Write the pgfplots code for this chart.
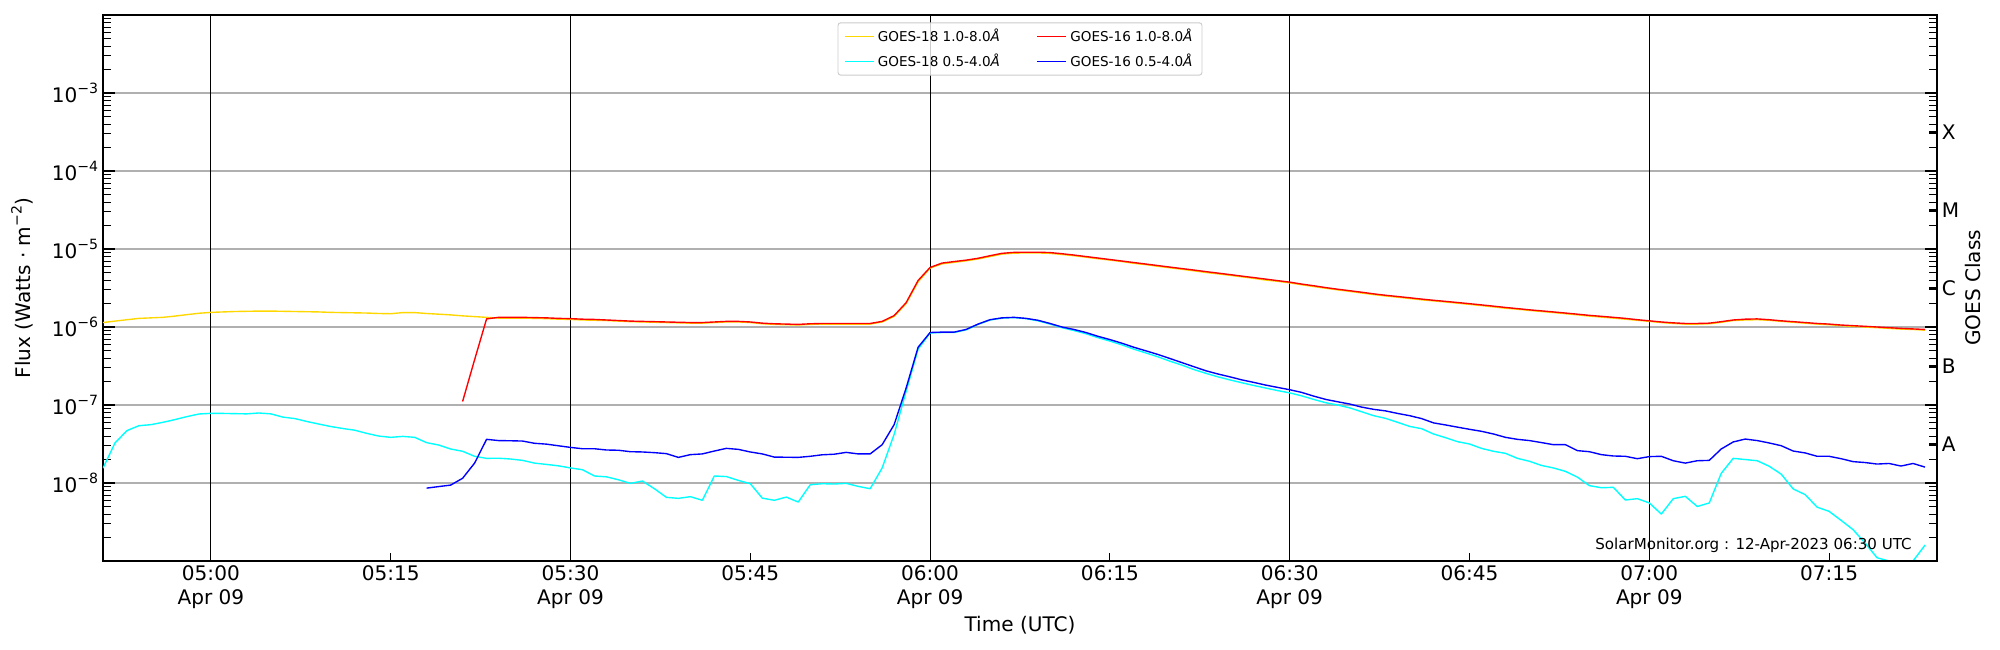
\documentclass[border=0pt]{standalone}
\usepackage{fontspec}
\setmainfont{DejaVu Sans}
\usepackage{pgfplots}
\pgfplotsset{compat=1.18}
\definecolor{goldc}{HTML}{FFD700}
\definecolor{cyanc}{HTML}{00FFFF}
\definecolor{redc}{HTML}{FF0000}
\definecolor{bluec}{HTML}{0000FF}
\definecolor{gridgray}{HTML}{B0B0B0}
\definecolor{legedge}{HTML}{CCCCCC}
\newcommand{\sups}[1]{\raisebox{0.43em}{\fontsize{10.2}{12}\selectfont #1}}
\newcommand{\bigf}{\fontsize{14.5}{16.8}\selectfont}
\begin{document}
\begin{tikzpicture}
\useasboundingbox (-1.03in,-0.89in) rectangle (18.97in,5.61in);
\begin{axis}[
  at={(0,0)}, anchor=south west,
  scale only axis, width=18.34in, height=5.46in,
  xmin=-9, xmax=144, ymin=1e-9, ymax=1e-2, ymode=log,
  xtick=\empty,
  ytick={1e-8,1e-7,1e-6,1e-5,1e-4,1e-3},
  yticklabels={10\sups{−8},10\sups{−7},10\sups{−6},10\sups{−5},10\sups{−4},10\sups{−3}},
  minor ytick={2e-9,3e-9,4e-9,5e-9,6e-9,7e-9,8e-9,9e-9,
    2e-8,3e-8,4e-8,5e-8,6e-8,7e-8,8e-8,9e-8,
    2e-7,3e-7,4e-7,5e-7,6e-7,7e-7,8e-7,9e-7,
    2e-6,3e-6,4e-6,5e-6,6e-6,7e-6,8e-6,9e-6,
    2e-5,3e-5,4e-5,5e-5,6e-5,7e-5,8e-5,9e-5,
    2e-4,3e-4,4e-4,5e-4,6e-4,7e-4,8e-4,9e-4,
    2e-3,3e-3,4e-3,5e-3,6e-3,7e-3,8e-3,9e-3},
  ytick pos=both, yticklabel pos=left,
  tick align=inside,
  major tick length=0.12in, minor tick length=0.08in,
  tick style={black, line width=0.75pt},
  ymajorgrids, major grid style={gridgray, line width=0.75pt},
  axis line style={line width=0.9pt},
  yticklabel style={font=\bigf},
  ylabel={Flux (Watts · m\sups{−2})},
  ylabel style={font=\bigf, at={(axis description cs:0,0.5)}, anchor=center, yshift=0.81in},
  legend columns=2, transpose legend,
  legend cell align=left,
  legend style={at={(axis description cs:0.5,1)}, anchor=north, yshift=-0.073in,
    font=\fontsize{9.8}{11.5}\selectfont, fill=white, fill opacity=0.8, text opacity=1,
    draw=legedge, line width=0.7pt, rounded corners=2pt,
    inner xsep=0.06in, inner ysep=0.04in, row sep=0.05in,
    nodes={inner xsep=0.035in, inner ysep=0.025in},
    /tikz/every even column/.append style={column sep=0.33in}},
  legend image code/.code={\draw[#1, line width=1pt] (0in,0in) -- (0.29in,0in);},
  every axis plot/.append style={line width=1pt, line join=round},
  clip=true,
]
% vertical black lines at the half hours
\addplot[black, line width=0.7pt, forget plot] coordinates {(0,1e-9) (0,1e-2)};
\addplot[black, line width=0.7pt, forget plot] coordinates {(30,1e-9) (30,1e-2)};
\addplot[black, line width=0.7pt, forget plot] coordinates {(60,1e-9) (60,1e-2)};
\addplot[black, line width=0.7pt, forget plot] coordinates {(90,1e-9) (90,1e-2)};
\addplot[black, line width=0.7pt, forget plot] coordinates {(120,1e-9) (120,1e-2)};
% GOES-18 1.0-8.0 A
\addplot[goldc] coordinates {
(-9,1.14e-6)(-8,1.19e-6)(-7,1.24e-6)(-6,1.29e-6)(-5,1.31e-6)(-4,1.33e-6)(-3,1.38e-6)(-2,1.44e-6)(-1,1.50e-6)
(0,1.54e-6)(1,1.56e-6)(2,1.58e-6)(3,1.59e-6)(4,1.60e-6)(5,1.60e-6)(6,1.59e-6)(7,1.58e-6)(8,1.57e-6)(9,1.56e-6)
(10,1.54e-6)(11,1.53e-6)(12,1.52e-6)(13,1.51e-6)(14,1.49e-6)(15,1.48e-6)(16,1.53e-6)(17,1.53e-6)(18,1.49e-6)(19,1.46e-6)
(20,1.43e-6)(21,1.39e-6)(22,1.36e-6)(23,1.33e-6)(24,1.30e-6)(25,1.30e-6)(26,1.30e-6)(27,1.29e-6)(28,1.28e-6)(29,1.26e-6)
(30,1.25e-6)(31,1.23e-6)(32,1.22e-6)(33,1.21e-6)(34,1.19e-6)(35,1.17e-6)(36,1.16e-6)(37,1.15e-6)(38,1.14e-6)(39,1.13e-6)
(40,1.12e-6)(41,1.12e-6)(42,1.14e-6)(43,1.16e-6)(44,1.16e-6)(45,1.14e-6)(46,1.10e-6)(47,1.08e-6)(48,1.07e-6)(49,1.06e-6)
(50,1.08e-6)(51,1.09e-6)(52,1.09e-6)(53,1.09e-6)(54,1.09e-6)(55,1.09e-6)(56,1.16e-6)(57,1.37e-6)(58,2.0e-6)(59,3.8e-6)
(60,5.7e-6)(61,6.45e-6)(62,6.75e-6)(63,7.05e-6)(64,7.45e-6)(65,8.0e-6)(66,8.6e-6)(67,8.85e-6)(68,8.9e-6)(69,8.9e-6)
(70,8.8e-6)(71,8.5e-6)(72,8.2e-6)(73,7.85e-6)(74,7.5e-6)(75,7.2e-6)(76,6.9e-6)(77,6.55e-6)(78,6.3e-6)(79,6.0e-6)
(80,5.75e-6)(81,5.5e-6)(82,5.25e-6)(83,5.0e-6)(84,4.8e-6)(85,4.6e-6)(86,4.4e-6)(87,4.2e-6)(88,4.0e-6)(89,3.85e-6)
(90,3.68e-6)(91,3.48e-6)(92,3.3e-6)(93,3.14e-6)(94,2.99e-6)(95,2.86e-6)(96,2.73e-6)(97,2.6e-6)(98,2.5e-6)(99,2.41e-6)
(100,2.32e-6)(101,2.23e-6)(102,2.16e-6)(103,2.09e-6)(104,2.02e-6)(105,1.95e-6)(106,1.88e-6)(107,1.81e-6)(108,1.74e-6)(109,1.69e-6)
(110,1.63e-6)(111,1.58e-6)(112,1.53e-6)(113,1.48e-6)(114,1.43e-6)(115,1.38e-6)(116,1.34e-6)(117,1.30e-6)(118,1.26e-6)(119,1.22e-6)
(120,1.18e-6)(121,1.14e-6)(122,1.11e-6)(123,1.09e-6)(124,1.09e-6)(125,1.10e-6)(126,1.15e-6)(127,1.21e-6)(128,1.23e-6)(129,1.24e-6)
(130,1.22e-6)(131,1.18e-6)(132,1.15e-6)(133,1.12e-6)(134,1.09e-6)(135,1.07e-6)(136,1.04e-6)(137,1.02e-6)(138,1.00e-6)(139,0.98e-6)
(140,0.96e-6)(141,0.94e-6)(142,0.93e-6)(143,0.91e-6)
};
\addlegendentry{GOES-18 1.0-8.0\textit{Å}}
% GOES-18 0.5-4.0 A
\addplot[cyanc] coordinates {
(-9,1.55e-8)(-8,3.26e-8)(-7,4.7e-8)(-6,5.43e-8)(-5,5.6e-8)(-4,6.0e-8)(-3,6.5e-8)(-2,7.1e-8)(-1,7.67e-8)
(0,7.82e-8)(1,7.8e-8)(2,7.75e-8)(3,7.7e-8)(4,7.9e-8)(5,7.7e-8)(6,7.0e-8)(7,6.7e-8)(8,6.15e-8)(9,5.7e-8)
(10,5.3e-8)(11,5.0e-8)(12,4.75e-8)(13,4.33e-8)(14,4.0e-8)(15,3.85e-8)(16,3.96e-8)(17,3.85e-8)(18,3.29e-8)(19,3.07e-8)
(20,2.73e-8)(21,2.55e-8)(22,2.2e-8)(23,2.07e-8)(24,2.08e-8)(25,2.03e-8)(26,1.95e-8)(27,1.8e-8)(28,1.73e-8)(29,1.66e-8)
(30,1.56e-8)(31,1.48e-8)(32,1.23e-8)(33,1.2e-8)(34,1.1e-8)(35,9.9e-9)(36,1.06e-8)(37,8.45e-9)(38,6.55e-9)(39,6.36e-9)
(40,6.68e-9)(41,6.0e-9)(42,1.23e-8)(43,1.21e-8)(44,1.08e-8)(45,9.8e-9)(46,6.4e-9)(47,6.0e-9)(48,6.6e-9)(49,5.7e-9)
(50,9.5e-9)(51,9.8e-9)(52,9.7e-9)(53,9.9e-9)(54,9.05e-9)(55,8.45e-9)(56,1.56e-8)(57,4.2e-8)(58,1.5e-7)(59,5.2e-7)
(60,8.4e-7)(61,8.5e-7)(62,8.5e-7)(63,9.2e-7)(64,1.08e-6)(65,1.23e-6)(66,1.30e-6)(67,1.32e-6)(68,1.28e-6)(69,1.20e-6)
(70,1.09e-6)(71,9.8e-7)(72,9.0e-7)(73,8.2e-7)(74,7.3e-7)(75,6.6e-7)(76,5.9e-7)(77,5.2e-7)(78,4.65e-7)(79,4.15e-7)
(80,3.65e-7)(81,3.25e-7)(82,2.85e-7)(83,2.55e-7)(84,2.3e-7)(85,2.1e-7)(86,1.93e-7)(87,1.78e-7)(88,1.65e-7)(89,1.53e-7)
(90,1.43e-7)(91,1.31e-7)(92,1.18e-7)(93,1.07e-7)(94,1.0e-7)(95,9.2e-8)(96,8.2e-8)(97,7.3e-8)(98,6.74e-8)(99,6.0e-8)
(100,5.32e-8)(101,4.97e-8)(102,4.25e-8)(103,3.81e-8)(104,3.39e-8)(105,3.16e-8)(106,2.78e-8)(107,2.55e-8)(108,2.4e-8)(109,2.07e-8)
(110,1.9e-8)(111,1.68e-8)(112,1.56e-8)(113,1.41e-8)(114,1.19e-8)(115,9.25e-9)(116,8.7e-9)(117,8.8e-9)(118,6.05e-9)(119,6.3e-9)
(120,5.55e-9)(121,4.0e-9)(122,6.3e-9)(123,6.75e-9)(124,5.0e-9)(125,5.55e-9)(126,1.33e-8)(127,2.07e-8)(128,2.0e-8)(129,1.93e-8)
(130,1.64e-8)(131,1.3e-8)(132,8.4e-9)(133,7.1e-9)(134,4.9e-9)(135,4.33e-9)(136,3.32e-9)(137,2.52e-9)(138,1.7e-9)(139,1.1e-9)
(140,1.0e-9)(141,1.0e-9)(142,1.0e-9)(143,1.6e-9)
};
\addlegendentry{GOES-18 0.5-4.0\textit{Å}}
% GOES-16 1.0-8.0 A
\addplot[redc] coordinates {
(21,1.11e-7)(22,3.8e-7)(23,1.27e-6)(24,1.33e-6)(25,1.33e-6)(26,1.33e-6)(27,1.32e-6)(28,1.31e-6)(29,1.29e-6)
(30,1.28e-6)(31,1.26e-6)(32,1.25e-6)(33,1.23e-6)(34,1.21e-6)(35,1.19e-6)(36,1.18e-6)(37,1.17e-6)(38,1.16e-6)(39,1.15e-6)
(40,1.14e-6)(41,1.14e-6)(42,1.16e-6)(43,1.18e-6)(44,1.18e-6)(45,1.16e-6)(46,1.12e-6)(47,1.10e-6)(48,1.09e-6)(49,1.08e-6)
(50,1.10e-6)(51,1.11e-6)(52,1.11e-6)(53,1.11e-6)(54,1.11e-6)(55,1.11e-6)(56,1.18e-6)(57,1.40e-6)(58,2.05e-6)(59,3.95e-6)
(60,5.8e-6)(61,6.6e-6)(62,6.9e-6)(63,7.2e-6)(64,7.6e-6)(65,8.2e-6)(66,8.8e-6)(67,9.05e-6)(68,9.1e-6)(69,9.1e-6)
(70,9.0e-6)(71,8.7e-6)(72,8.36e-6)(73,8.0e-6)(74,7.66e-6)(75,7.33e-6)(76,7.01e-6)(77,6.7e-6)(78,6.41e-6)(79,6.13e-6)
(80,5.86e-6)(81,5.61e-6)(82,5.37e-6)(83,5.13e-6)(84,4.91e-6)(85,4.7e-6)(86,4.49e-6)(87,4.3e-6)(88,4.11e-6)(89,3.93e-6)
(90,3.76e-6)(91,3.55e-6)(92,3.38e-6)(93,3.2e-6)(94,3.05e-6)(95,2.92e-6)(96,2.79e-6)(97,2.66e-6)(98,2.55e-6)(99,2.46e-6)
(100,2.37e-6)(101,2.28e-6)(102,2.2e-6)(103,2.13e-6)(104,2.06e-6)(105,1.99e-6)(106,1.92e-6)(107,1.85e-6)(108,1.78e-6)(109,1.72e-6)
(110,1.66e-6)(111,1.61e-6)(112,1.56e-6)(113,1.51e-6)(114,1.46e-6)(115,1.41e-6)(116,1.37e-6)(117,1.33e-6)(118,1.29e-6)(119,1.24e-6)
(120,1.20e-6)(121,1.16e-6)(122,1.13e-6)(123,1.11e-6)(124,1.11e-6)(125,1.12e-6)(126,1.17e-6)(127,1.23e-6)(128,1.26e-6)(129,1.27e-6)
(130,1.24e-6)(131,1.20e-6)(132,1.17e-6)(133,1.14e-6)(134,1.11e-6)(135,1.09e-6)(136,1.06e-6)(137,1.04e-6)(138,1.02e-6)(139,1.0e-6)
(140,9.8e-7)(141,9.6e-7)(142,9.45e-7)(143,9.3e-7)
};
\addlegendentry{GOES-16 1.0-8.0\textit{Å}}
% GOES-16 0.5-4.0 A
\addplot[bluec] coordinates {
(18,8.6e-9)(19,9.0e-9)(20,9.4e-9)(21,1.15e-8)(22,1.8e-8)(23,3.63e-8)(24,3.5e-8)(25,3.48e-8)(26,3.45e-8)(27,3.23e-8)(28,3.15e-8)(29,3.0e-8)
(30,2.86e-8)(31,2.75e-8)(32,2.75e-8)(33,2.65e-8)(34,2.63e-8)(35,2.52e-8)(36,2.5e-8)(37,2.45e-8)(38,2.38e-8)(39,2.13e-8)
(40,2.31e-8)(41,2.36e-8)(42,2.57e-8)(43,2.78e-8)(44,2.7e-8)(45,2.5e-8)(46,2.36e-8)(47,2.15e-8)(48,2.14e-8)(49,2.13e-8)
(50,2.2e-8)(51,2.3e-8)(52,2.34e-8)(53,2.47e-8)(54,2.36e-8)(55,2.36e-8)(56,3.1e-8)(57,5.6e-8)(58,1.65e-7)(59,5.5e-7)
(60,8.5e-7)(61,8.6e-7)(62,8.6e-7)(63,9.3e-7)(64,1.09e-6)(65,1.24e-6)(66,1.31e-6)(67,1.33e-6)(68,1.29e-6)(69,1.22e-6)
(70,1.11e-6)(71,1.0e-6)(72,9.3e-7)(73,8.5e-7)(74,7.6e-7)(75,6.9e-7)(76,6.2e-7)(77,5.5e-7)(78,4.95e-7)(79,4.45e-7)
(80,3.95e-7)(81,3.5e-7)(82,3.1e-7)(83,2.75e-7)(84,2.5e-7)(85,2.3e-7)(86,2.1e-7)(87,1.95e-7)(88,1.8e-7)(89,1.68e-7)
(90,1.57e-7)(91,1.45e-7)(92,1.3e-7)(93,1.18e-7)(94,1.1e-7)(95,1.03e-7)(96,9.4e-8)(97,8.8e-8)(98,8.4e-8)(99,7.8e-8)
(100,7.3e-8)(101,6.7e-8)(102,5.9e-8)(103,5.55e-8)(104,5.2e-8)(105,4.88e-8)(106,4.6e-8)(107,4.25e-8)(108,3.85e-8)(109,3.63e-8)
(110,3.5e-8)(111,3.3e-8)(112,3.1e-8)(113,3.1e-8)(114,2.6e-8)(115,2.52e-8)(116,2.31e-8)(117,2.22e-8)(118,2.2e-8)(119,2.05e-8)
(120,2.18e-8)(121,2.2e-8)(122,1.93e-8)(123,1.8e-8)(124,1.93e-8)(125,1.95e-8)(126,2.73e-8)(127,3.36e-8)(128,3.66e-8)(129,3.5e-8)
(130,3.26e-8)(131,3.01e-8)(132,2.57e-8)(133,2.43e-8)(134,2.2e-8)(135,2.2e-8)(136,2.05e-8)(137,1.88e-8)(138,1.83e-8)(139,1.75e-8)
(140,1.78e-8)(141,1.65e-8)(142,1.78e-8)(143,1.6e-8)
};
\addlegendentry{GOES-16 0.5-4.0\textit{Å}}
\node[anchor=base east, font=\fontsize{10.9}{13}\selectfont, inner sep=0pt, xshift=-0.25in, yshift=0.12in]
  at (rel axis cs:1,0) {SolarMonitor.org : 12-Apr-2023 06:30 UTC};
\end{axis}
\begin{axis}[
  at={(0,0)}, anchor=south west,
  scale only axis, width=18.34in, height=5.46in,
  xmin=-9, xmax=144, ymin=1e-9, ymax=1e-2, ymode=log,
  axis x line*=bottom, axis y line*=right,
  axis line style={line width=0.9pt, -},
  tick align=inside,
  major tick length=0.077in,
  tick style={black, line width=0.75pt},
  xtick={0,15,30,45,60,75,90,105,120,135},
  xticklabels={05:00\\Apr 09,05:15,05:30\\Apr 09,05:45,06:00\\Apr 09,06:15,06:30\\Apr 09,06:45,07:00\\Apr 09,07:15},
  xticklabel style={font=\bigf, align=center},
  ytick={3.1623e-8,3.1623e-7,3.1623e-6,3.1623e-5,3.1623e-4},
  yticklabels={A,B,C,M,X},
  yminorticks=false,
  yticklabel style={font=\bigf},
  xlabel={Time (UTC)},
  xlabel style={font=\bigf, at={(axis description cs:0.5,0)}, anchor=center, yshift=-0.64in},
  ylabel={GOES Class},
  ylabel style={font=\bigf, at={(axis description cs:1,0.5)}, anchor=center, yshift=-0.36in},
]
\end{axis}
\end{tikzpicture}
\end{document}
